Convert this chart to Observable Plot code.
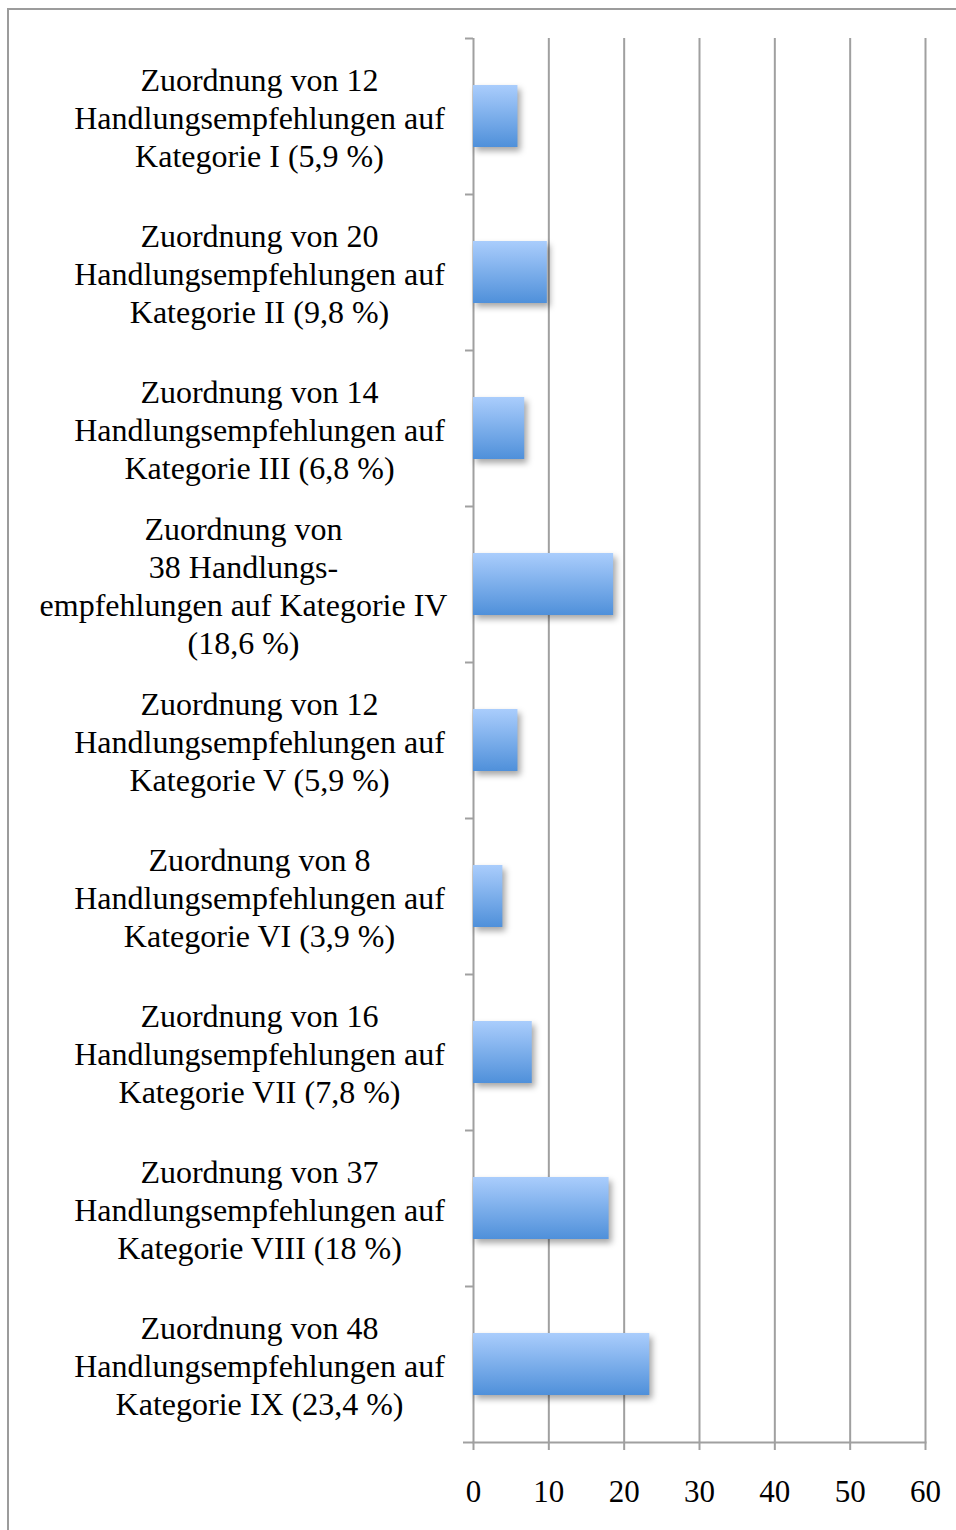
<!DOCTYPE html>
<html><head><meta charset="utf-8">
<script src="https://cdn.jsdelivr.net/npm/d3@7"></script>
<script src="https://cdn.jsdelivr.net/npm/@observablehq/plot@0.6"></script>
<style>
body{margin:0;background:#fff;overflow:hidden;}
#wrap{position:relative;width:956px;height:1530px;overflow:hidden;}
#border{position:absolute;left:7px;top:8px;width:2000px;height:2000px;border:2.5px solid #9c9c9c;box-sizing:border-box;}
#chart{position:absolute;left:0;top:0;}
.bars rect{filter:drop-shadow(3px 4px 3px rgba(0,0,0,0.35));}
</style>
</head><body>
<div id="wrap"><div id="border"></div><div id="chart"></div></div>
<script>
const categories = [
  "Zuordnung von 12\nHandlungsempfehlungen auf\nKategorie I (5,9 %)",
  "Zuordnung von 20\nHandlungsempfehlungen auf\nKategorie II (9,8 %)",
  "Zuordnung von 14\nHandlungsempfehlungen auf\nKategorie III (6,8 %)",
  "Zuordnung von\n38 Handlungs-\nempfehlungen auf Kategorie IV\n(18,6 %)",
  "Zuordnung von 12\nHandlungsempfehlungen auf\nKategorie V (5,9 %)",
  "Zuordnung von 8\nHandlungsempfehlungen auf\nKategorie VI (3,9 %)",
  "Zuordnung von 16\nHandlungsempfehlungen auf\nKategorie VII (7,8 %)",
  "Zuordnung von 37\nHandlungsempfehlungen auf\nKategorie VIII (18 %)",
  "Zuordnung von 48\nHandlungsempfehlungen auf\nKategorie IX (23,4 %)"
];
const values = [5.9, 9.8, 6.8, 18.6, 5.9, 3.9, 7.8, 18, 23.4];
const xTicks = [0, 10, 20, 30, 40, 50, 60];

const data = categories.map((c, i) => ({label: c, value: values[i], wide: i === 3}));
const grey = "#a0a0a0";

const chart = Plot.plot({
  width: 956,
  height: 1530,
  marginLeft: 473,
  marginRight: 31,
  marginTop: 38,
  marginBottom: 88,
  style: {fontFamily: "'Liberation Serif', 'Times New Roman', serif", fontSize: "32px", color: "#000", background: "transparent"},
  x: {domain: [0, 60], ticks: xTicks, label: null},
  y: {domain: categories, paddingInner: 0.6, paddingOuter: 0.3, label: null},
  marks: [
    () => {
      const defs = d3.create("svg:defs");
      const g = defs.append("linearGradient").attr("id", "barGrad").attr("x1", 0).attr("y1", 0).attr("x2", 0).attr("y2", 1);
      g.append("stop").attr("offset", "0%").attr("stop-color", "#aacdfc");
      g.append("stop").attr("offset", "100%").attr("stop-color", "#4f90da");
      return defs.node();
    },
    Plot.gridX(xTicks, {stroke: grey, strokeOpacity: 1, strokeWidth: 2}),
    Plot.axisX({ticks: xTicks, tickSize: 8, tickPadding: 29, stroke: grey, strokeWidth: 2, strokeOpacity: 1, fontSize: 31, label: null, tickFormat: d => String(d)}),
    Plot.axisY({tickSize: 8, tickFormat: () => "", dy: -78, label: null, stroke: grey, strokeWidth: 2, strokeOpacity: 1}),
    Plot.axisY({ticks: [categories[categories.length - 1]], tickSize: 10, tickFormat: () => "", label: null, dy: 78, stroke: grey, strokeWidth: 2, strokeOpacity: 1}),
    Plot.frame({anchor: "bottom", stroke: grey, strokeWidth: 2}),
    Plot.barX(data, {x: "value", y: "label", fill: "url(#barGrad)", className: "bars"}),
    Plot.text(data.filter(d => !d.wide), {text: "label", y: "label", frameAnchor: "left", dx: -214, textAnchor: "middle", lineHeight: 1.19, fontSize: 32, fill: "#000"}),
    Plot.text(data.filter(d => d.wide), {text: "label", y: "label", frameAnchor: "left", dx: -230, textAnchor: "middle", lineHeight: 1.19, fontSize: 32, fill: "#000"})
  ]
});
document.getElementById("chart").appendChild(chart);
</script>
</body></html>
